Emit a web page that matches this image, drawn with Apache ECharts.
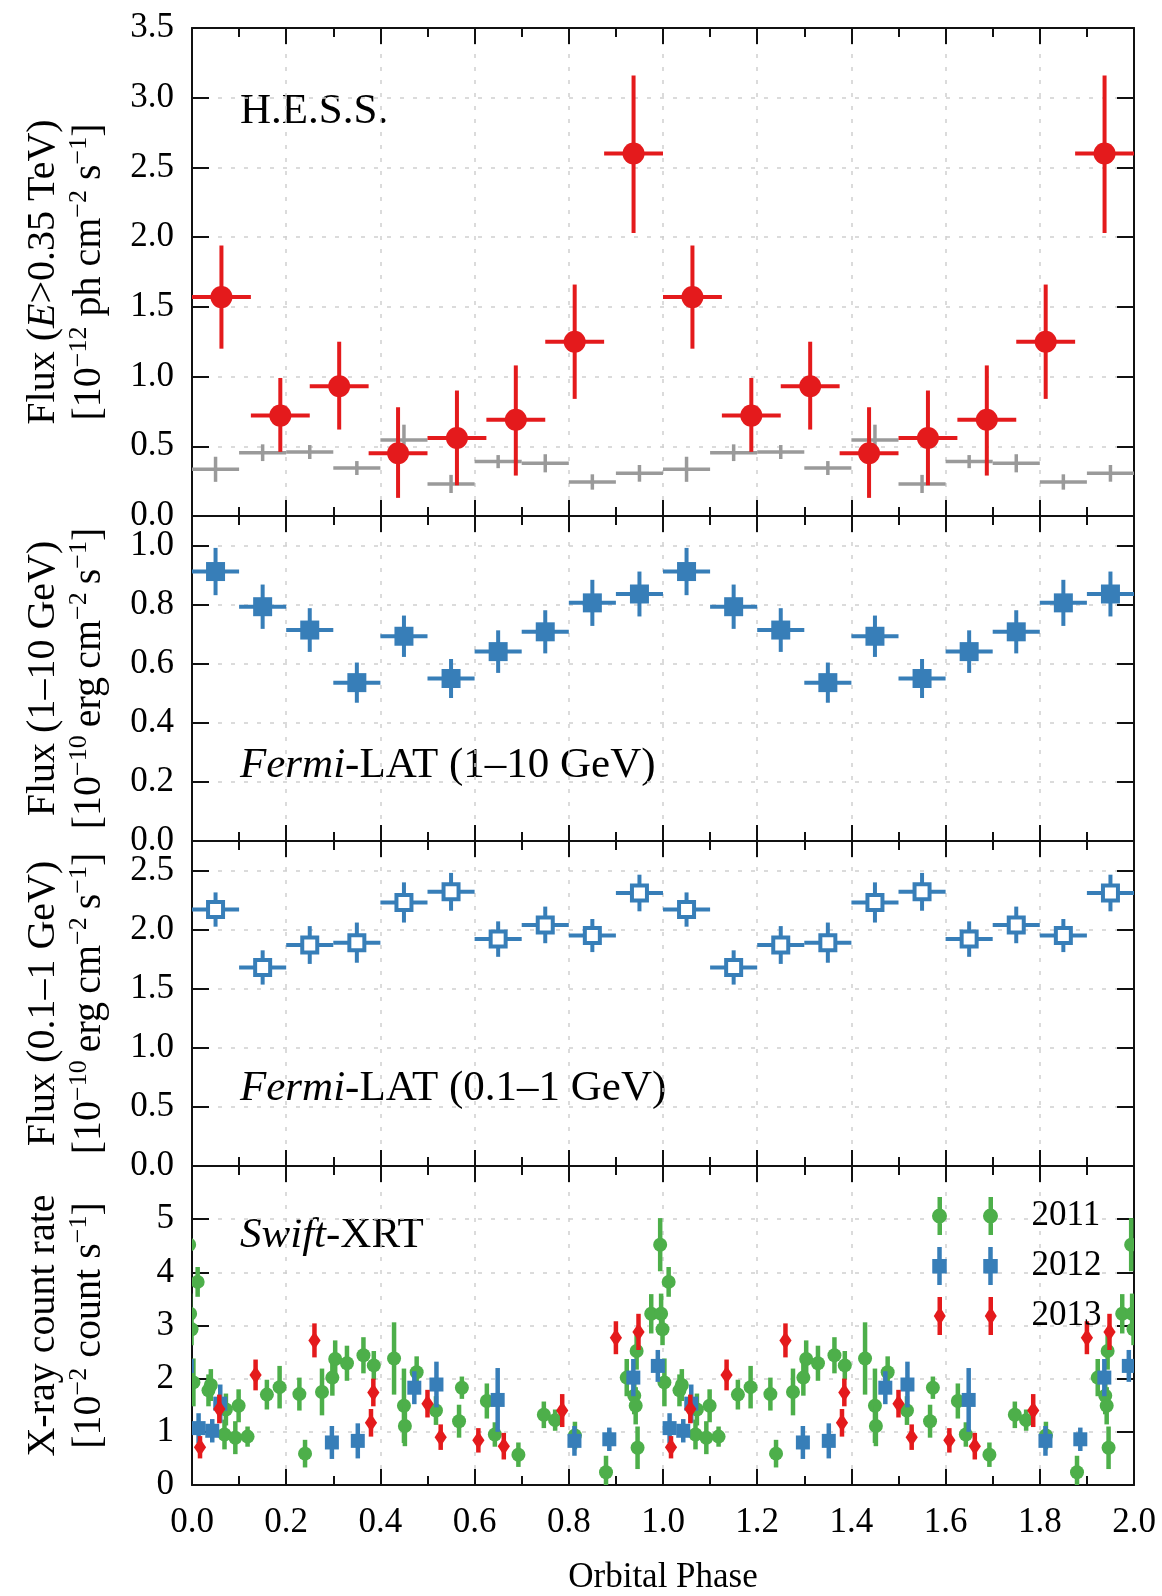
<!DOCTYPE html>
<html>
<head>
<meta charset="utf-8">
<title>Orbital phase light curves</title>
<script src="https://cdn.jsdelivr.net/npm/echarts@6/dist/echarts.min.js"></script>
</head>
<body style="margin:0;background:#fff">
<div id="main" style="width:1162px;height:1596px;"></div>
<script type="text/javascript">
// H.E.S.S. flux (E>0.35 TeV), 8 phase bins of width 0.125
var hessPhase = [0.0625, 0.1875, 0.3125, 0.4375, 0.5625, 0.6875, 0.8125, 0.9375];
var hessFlux  = [1.57, 0.72, 0.93, 0.45, 0.56, 0.69, 1.25, 2.60];
var hessLow   = [1.20, 0.46, 0.62, 0.13, 0.22, 0.29, 0.84, 2.03];
var hessHigh  = [1.94, 0.99, 1.25, 0.78, 0.90, 1.08, 1.66, 3.16];

// grey crosses in the H.E.S.S. panel, 10 bins of width 0.1
var greyPhase = [0.05, 0.15, 0.25, 0.35, 0.45, 0.55, 0.65, 0.75, 0.85, 0.95];
var greyFlux  = [0.335, 0.454, 0.459, 0.344, 0.545, 0.23, 0.39, 0.378, 0.244, 0.306];
var greyErr   = [0.09, 0.06, 0.05, 0.05, 0.11, 0.065, 0.047, 0.065, 0.055, 0.06];

// Fermi-LAT, 10 bins of width 0.1
var fermiPhase   = [0.05, 0.15, 0.25, 0.35, 0.45, 0.55, 0.65, 0.75, 0.85, 0.95];
var fermiHigh    = [0.912, 0.793, 0.714, 0.536, 0.693, 0.550, 0.641, 0.708, 0.806, 0.836];
var fermiHighErr = [0.08, 0.075, 0.074, 0.068, 0.07, 0.066, 0.072, 0.073, 0.078, 0.076];
var fermiLow     = [2.17, 1.68, 1.87, 1.89, 2.23, 2.32, 1.92, 2.04, 1.95, 2.31];
var fermiLowErr  = [0.145, 0.145, 0.16, 0.17, 0.17, 0.16, 0.15, 0.155, 0.14, 0.155];

// Swift-XRT count rates
var xrt2011Phase = [0.003, 0.012, 0.035, 0.040, 0.069, 0.072, 0.092, 0.099, 0.118, 0.159,
                    0.186, 0.228, 0.240, 0.276, 0.298, 0.304, 0.329, 0.364, 0.386, 0.429,
                    0.450, 0.452, 0.477, 0.518, 0.567, 0.573, 0.626, 0.643, 0.693, 0.747,
                    0.771, 0.813, 0.879, 0.923, 0.939, 0.942, 0.944, 0.946, 0.975, 0.994,
                    0.996, 0.999];
var xrt2011Rate  = [1.93, 3.82, 1.78, 1.88, 0.95, 1.42, 0.89, 1.49, 0.91, 1.70,
                    1.84, 1.71, 0.59, 1.75, 2.02, 2.37, 2.29, 2.44, 2.25, 2.38,
                    1.49, 1.11, 2.12, 1.40, 1.20, 1.83, 1.58, 0.95, 0.57, 1.32,
                    1.22, 0.93, 0.24, 2.02, 1.68, 1.49, 2.52, 0.70, 3.22, 4.52,
                    3.22, 2.93];
var xrt2011Err   = [0.45, 0.28, 0.30, 0.30, 0.28, 0.30, 0.31, 0.31, 0.19, 0.28,
                    0.40, 0.31, 0.26, 0.44, 0.34, 0.35, 0.33, 0.34, 0.27, 0.68,
                    0.70, 0.38, 0.30, 0.27, 0.31, 0.21, 0.33, 0.23, 0.23, 0.25,
                    0.20, 0.26, 0.31, 0.35, 0.35, 0.35, 0.35, 0.40, 0.37, 0.50,
                    0.38, 0.30];
var xrt2012Phase = [0.014, 0.043, 0.060, 0.297, 0.352, 0.472, 0.519, 0.649, 0.812, 0.886, 0.937, 0.989];
var xrt2012Rate  = [1.07, 1.02, 1.53, 0.80, 0.83, 1.83, 1.89, 1.60, 0.83, 0.86, 2.02, 2.24];
var xrt2012Err   = [0.28, 0.22, 0.36, 0.31, 0.33, 0.31, 0.43, 0.60, 0.28, 0.22, 0.35, 0.30];
var xrt2013Phase = [0.017, 0.058, 0.135, 0.260, 0.380, 0.385, 0.500, 0.528, 0.608, 0.662, 0.786, 0.900, 0.948];
var xrt2013Rate  = [0.71, 1.43, 2.07, 2.72, 1.17, 1.74, 1.53, 0.90, 0.84, 0.73, 1.40, 2.77, 2.88];
var xrt2013Err   = [0.21, 0.27, 0.29, 0.32, 0.26, 0.26, 0.26, 0.24, 0.23, 0.25, 0.31, 0.31, 0.34];

var SERIF = 'Liberation Serif';
var RED = '#e41a1c', BLUE = '#377eb8', GREEN = '#4daf4a', GREY = '#9a9a9a';

// panels, top to bottom
var panels = [
  {top: 28,   height: 488, max: 3.5,  interval: 0.5, digits: 1,
   title: '{n|Flux (}{i|E}{n|>0.35 TeV)}\n{n|[10}{s|\u221212}{n| ph cm}{s|\u22122}{n| s}{s|\u22121}{n|]}'},
  {top: 516,  height: 325, max: 1.1,  interval: 0.2, digits: 1,
   title: '{n|Flux (1\u201310 GeV)}\n{n|[10}{s|\u221210}{n|\u2009erg\u2009cm}{s|\u22122}{n|\u2009s}{s|\u22121}{n|]}'},
  {top: 841,  height: 325, max: 2.75, interval: 0.5, digits: 1,
   title: '{n|Flux (0.1\u20131 GeV)}\n{n|[10}{s|\u221210}{n|\u2009erg\u2009cm}{s|\u22122}{n|\u2009s}{s|\u22121}{n|]}'},
  {top: 1166, height: 323, max: 6,    interval: 1,   digits: 0,
   title: '{n|X-ray count rate}\n{n|[10}{s|\u22122}{n| count s}{s|\u22121}{n|]}'}
];

var titleRich = {
  n: {fontFamily: SERIF, fontSize: 40, lineHeight: 46, color: '#000'},
  i: {fontFamily: SERIF, fontSize: 40, lineHeight: 46, fontStyle: 'italic', color: '#000'},
  s: {fontFamily: SERIF, fontSize: 26, lineHeight: 26, verticalAlign: 'top', color: '#000'}
};

var axisLine = {show: true, onZero: false, lineStyle: {color: '#111', width: 2}};
var gridLine = {show: true, lineStyle: {color: '#cfcfcf', width: 1.5, type: [4, 9]}};
var tickLine = {color: '#111', width: 2};

var grid = [], xAxis = [], yAxis = [];
panels.forEach(function (p, i) {
  var last = i === panels.length - 1;
  grid.push({left: 192, right: 28, top: p.top, height: p.height});
  xAxis.push({
    type: 'value', gridIndex: i, position: 'bottom', min: 0, max: 2, interval: 0.2,
    axisLine: axisLine,
    axisTick: {show: true, inside: true, length: 16, lineStyle: tickLine},
    minorTick: {show: true, splitNumber: 2, length: 9, lineStyle: tickLine},
    splitLine: gridLine,
    axisLabel: {show: last, margin: 20, fontFamily: SERIF, fontSize: 35, color: '#000',
                formatter: function (v) { return v.toFixed(1); }},
    name: last ? 'Orbital Phase' : '', nameLocation: 'middle', nameGap: 75,
    nameTextStyle: {fontFamily: SERIF, fontSize: 35, color: '#000'}
  });
  xAxis.push({
    type: 'value', gridIndex: i, position: 'top', min: 0, max: 2, interval: 0.2,
    axisLine: axisLine,
    axisTick: {show: true, inside: true, length: 16, lineStyle: tickLine},
    minorTick: {show: true, splitNumber: 2, length: 9, lineStyle: tickLine},
    splitLine: {show: false}, axisLabel: {show: false}
  });
  yAxis.push({
    type: 'value', gridIndex: i, position: 'left', min: 0, max: p.max, interval: p.interval,
    axisLine: axisLine,
    axisTick: {show: true, inside: true, length: 17, lineStyle: tickLine},
    splitLine: gridLine,
    axisLabel: {margin: 18, fontFamily: SERIF, fontSize: 35, color: '#000', showMaxLabel: i === 0,
                formatter: (function (d) { return function (v) { return v.toFixed(d); }; })(p.digits)},
    name: p.title, nameLocation: 'middle', nameRotate: 90, nameGap: 80,
    nameTextStyle: {rich: titleRich, align: 'center'}
  });
  yAxis.push({
    type: 'value', gridIndex: i, position: 'right', min: 0, max: p.max, interval: p.interval,
    axisLine: axisLine,
    axisTick: {show: true, inside: true, length: 17, lineStyle: tickLine},
    splitLine: {show: false}, axisLabel: {show: false}
  });
});

// repeat one orbit over the plotted two (plus one before, clipped)
function twoCycles(phase, row) {
  var out = [];
  [-1, 0, 1].forEach(function (k) {
    phase.forEach(function (ph, i) { out.push(row(ph + k, i)); });
  });
  return out;
}

// data row: [x, y, xlo, xhi, ylo, yhi]
function makeRender(st) {
  return function (params, api) {
    var x = api.value(0), y = api.value(1);
    var p = api.coord([x, y]);
    var line = {stroke: st.color, lineWidth: st.lw};
    var kids = [];
    if (st.xerr) {
      var a = api.coord([api.value(2), y]), b = api.coord([api.value(3), y]);
      kids.push({type: 'line', shape: {x1: a[0], y1: a[1], x2: b[0], y2: b[1]}, style: line});
    }
    var lo = api.coord([x, api.value(4)]), hi = api.coord([x, api.value(5)]);
    kids.push({type: 'line', shape: {x1: lo[0], y1: lo[1], x2: hi[0], y2: hi[1]}, style: line});
    var s = st.size;
    if (st.marker === 'circle') {
      kids.push({type: 'circle', shape: {cx: p[0], cy: p[1], r: s / 2}, style: {fill: st.color}});
    } else if (st.marker === 'square') {
      kids.push({type: 'rect', shape: {x: p[0] - s / 2, y: p[1] - s / 2, width: s, height: s}, style: {fill: st.color}});
    } else if (st.marker === 'open') {
      kids.push({type: 'rect', shape: {x: p[0] - s / 2, y: p[1] - s / 2, width: s, height: s},
                 style: {fill: '#fff', stroke: st.color, lineWidth: 4}});
    } else if (st.marker === 'diamond') {
      var w = s * 0.34, h = s / 2;
      kids.push({type: 'polygon', shape: {points: [[p[0], p[1] - h], [p[0] + w, p[1]], [p[0], p[1] + h], [p[0] - w, p[1]]]},
                 style: {fill: st.color}});
    }
    return {type: 'group', children: kids};
  };
}

function errSeries(name, panel, data, st) {
  return {
    name: name, type: 'custom', xAxisIndex: panel * 2, yAxisIndex: panel * 2, clip: true,
    itemStyle: {color: st.color}, silent: true,
    encode: {x: [0, 2, 3], y: [1, 4, 5]},
    renderItem: makeRender(st), data: data
  };
}

var series = [
  errSeries('grey', 0, twoCycles(greyPhase, function (x, i) {
    return [x, greyFlux[i], x - 0.05, x + 0.05, greyFlux[i] - greyErr[i], greyFlux[i] + greyErr[i]];
  }), {color: GREY, lw: 3.5, xerr: true, marker: 'none'}),
  errSeries('H.E.S.S.', 0, twoCycles(hessPhase, function (x, i) {
    return [x, hessFlux[i], x - 0.0625, x + 0.0625, hessLow[i], hessHigh[i]];
  }), {color: RED, lw: 4, xerr: true, marker: 'circle', size: 22}),
  errSeries('LAT high', 1, twoCycles(fermiPhase, function (x, i) {
    return [x, fermiHigh[i], x - 0.05, x + 0.05, fermiHigh[i] - fermiHighErr[i], fermiHigh[i] + fermiHighErr[i]];
  }), {color: BLUE, lw: 4, xerr: true, marker: 'square', size: 19}),
  errSeries('LAT low', 2, twoCycles(fermiPhase, function (x, i) {
    return [x, fermiLow[i], x - 0.05, x + 0.05, fermiLow[i] - fermiLowErr[i], fermiLow[i] + fermiLowErr[i]];
  }), {color: BLUE, lw: 4, xerr: true, marker: 'open', size: 15}),
  errSeries('2011', 3, twoCycles(xrt2011Phase, function (x, i) {
    return [x, xrt2011Rate[i], x, x, xrt2011Rate[i] - xrt2011Err[i], xrt2011Rate[i] + xrt2011Err[i]];
  }), {color: GREEN, lw: 4.5, marker: 'circle', size: 14}),
  errSeries('2012', 3, twoCycles(xrt2012Phase, function (x, i) {
    return [x, xrt2012Rate[i], x, x, xrt2012Rate[i] - xrt2012Err[i], xrt2012Rate[i] + xrt2012Err[i]];
  }), {color: BLUE, lw: 4.5, marker: 'square', size: 14}),
  errSeries('2013', 3, twoCycles(xrt2013Phase, function (x, i) {
    return [x, xrt2013Rate[i], x, x, xrt2013Rate[i] - xrt2013Err[i], xrt2013Rate[i] + xrt2013Err[i]];
  }), {color: RED, lw: 4.5, marker: 'diamond', size: 18})
];

// legend icons: two markers with error bars each
var bars = 'M11 0 L15.5 0 L15.5 38 L11 38 Z M62 0 L66.5 0 L66.5 38 L62 38 Z ';
var iconCircle = 'path://' + bars +
  'M5.5 19 A7.5 7.5 0 1 1 20.5 19 A7.5 7.5 0 1 1 5.5 19 Z M56.5 19 A7.5 7.5 0 1 1 71.5 19 A7.5 7.5 0 1 1 56.5 19 Z';
var iconSquare = 'path://' + bars +
  'M6 12 L20.5 12 L20.5 26.5 L6 26.5 Z M57 12 L71.5 12 L71.5 26.5 L57 26.5 Z';
var iconDiamond = 'path://M5.5 18.9 L5.6 18.9 L5.6 19.1 L5.5 19.1 Z M71.4 18.9 L71.5 18.9 L71.5 19.1 L71.4 19.1 Z ' + bars +
  'M13.25 9.5 L19.25 19 L13.25 28.5 L7.25 19 Z M64.25 9.5 L70.25 19 L64.25 28.5 L58.25 19 Z';

var myChart = echarts.init(document.getElementById('main'), null, {renderer: 'canvas'});

var option = {
  backgroundColor: '#fff',
  animation: false,
  grid: grid,
  xAxis: xAxis,
  yAxis: yAxis,
  legend: {
    orient: 'vertical', left: 927, top: 1192, itemWidth: 123, itemHeight: 38, itemGap: 12,
    selectedMode: false,
    textStyle: {fontFamily: SERIF, fontSize: 35, color: '#000'},
    data: [{name: '2011', icon: iconCircle}, {name: '2012', icon: iconSquare}, {name: '2013', icon: iconDiamond}]
  },
  graphic: [
    {type: 'text', left: 240, top: 90, style: {text: 'H.E.S.S.', fontFamily: SERIF, fontSize: 43, fill: '#000'}},
    {type: 'text', left: 240, top: 744, style: {text: '{i|Fermi}-LAT (1\u201310 GeV)', fontFamily: SERIF, fontSize: 43, fill: '#000',
      rich: {i: {fontFamily: SERIF, fontSize: 43, fontStyle: 'italic', fill: '#000'}}}},
    {type: 'text', left: 240, top: 1067, style: {text: '{i|Fermi}-LAT (0.1\u20131 GeV)', fontFamily: SERIF, fontSize: 43, fill: '#000',
      rich: {i: {fontFamily: SERIF, fontSize: 43, fontStyle: 'italic', fill: '#000'}}}},
    {type: 'text', left: 240, top: 1214, style: {text: '{i|Swift}-XRT', fontFamily: SERIF, fontSize: 43, fill: '#000',
      rich: {i: {fontFamily: SERIF, fontSize: 43, fontStyle: 'italic', fill: '#000'}}}}
  ],
  series: series
};

myChart.setOption(option);
</script>
</body>
</html>
